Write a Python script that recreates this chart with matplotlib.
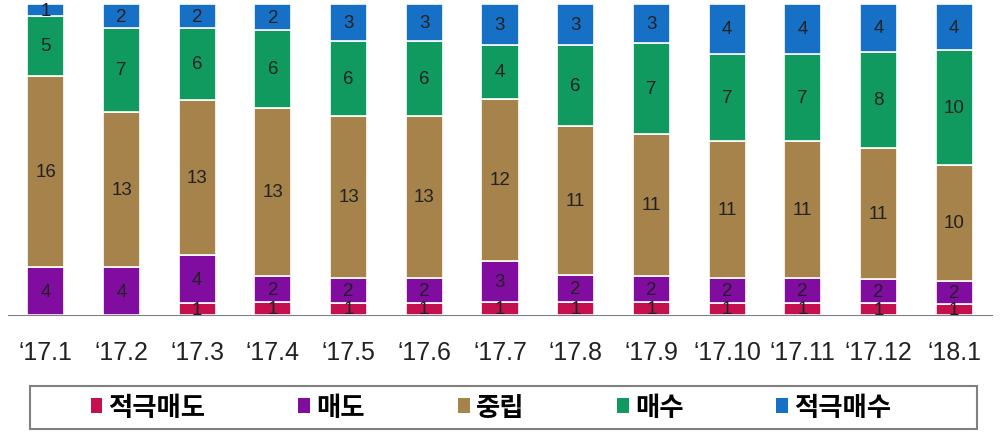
import numpy as np
import matplotlib
matplotlib.use("Agg")
import matplotlib.pyplot as plt
from matplotlib.patches import Patch, Rectangle

plt.rcParams["font.family"] = ["Liberation Sans", "Noto Sans CJK KR", "DejaVu Sans"]

months = ["‘17.1", "‘17.2", "‘17.3", "‘17.4", "‘17.5", "‘17.6", "‘17.7",
          "‘17.8", "‘17.9", "‘17.10", "‘17.11", "‘17.12", "‘18.1"]
strong_sell = [0, 0, 1, 1, 1, 1, 1, 1, 1, 1, 1, 1, 1]
sell = [4, 4, 4, 2, 2, 2, 3, 2, 2, 2, 2, 2, 2]
neutral = [16, 13, 13, 13, 13, 13, 12, 11, 11, 11, 11, 11, 10]
buy = [5, 7, 6, 6, 6, 6, 4, 6, 7, 7, 7, 8, 10]
strong_buy = [1, 2, 2, 2, 3, 3, 3, 3, 3, 4, 4, 4, 4]

series = [
    ("적극매도", strong_sell, "#C4104E"),
    ("매도", sell, "#800CA0"),
    ("중립", neutral, "#A6834A"),
    ("매수", buy, "#119A60"),
    ("적극매수", strong_buy, "#1670C6"),
]

data = np.array([s[1] for s in series], dtype=float)
shares = data / data.sum(axis=0)   # 100% stacked

fig = plt.figure(figsize=(10.03, 4.39), dpi=100)
ax = fig.add_axes([0.008, 0.280, 0.981, 0.7085])

x = np.arange(len(months))
bottom = np.zeros(len(months))
for (name, vals, col), frac in zip(series, shares):
    ax.bar(x, frac, width=0.49, bottom=bottom, color=col,
           edgecolor="white", linewidth=1.2)
    for xi, v, f, b in zip(x, vals, frac, bottom):
        if v > 0:
            ax.text(xi, b + f / 2, str(v), ha="center", va="center",
                    fontsize=13.5, color="#222222")
    bottom += frac

ax.set_xlim(-0.5, len(months) - 0.5)
ax.set_ylim(0, 1)
for side in ["top", "right", "left"]:
    ax.spines[side].set_visible(False)
ax.spines["bottom"].set_color("#808080")
ax.set_yticks([])
ax.set_xticks(x)
ax.set_xticklabels(months, fontsize=18, color="#222222")
ax.tick_params(axis="x", length=0, pad=18)

# legend box drawn separately so the entries sit like in the source
fig.patches.append(Rectangle((0.0299, 0.0205), 0.944, 0.098,
                             transform=fig.transFigure, fill=False,
                             edgecolor="#808080", linewidth=1.5))
handles = [Patch(facecolor=col, edgecolor="none") for _, _, col in series]
fig.legend(handles, [s[0] for s in series], ncol=5,
           loc="center", bbox_to_anchor=(0.4895, 0.0695), frameon=False,
           prop={"family": "Noto Sans CJK KR", "size": 19, "weight": "bold"},
           handlelength=0.45, handleheight=0.45, handletextpad=0.23,
           columnspacing=3.52, borderpad=0.2)

fig.savefig("out.png", dpi=100)
